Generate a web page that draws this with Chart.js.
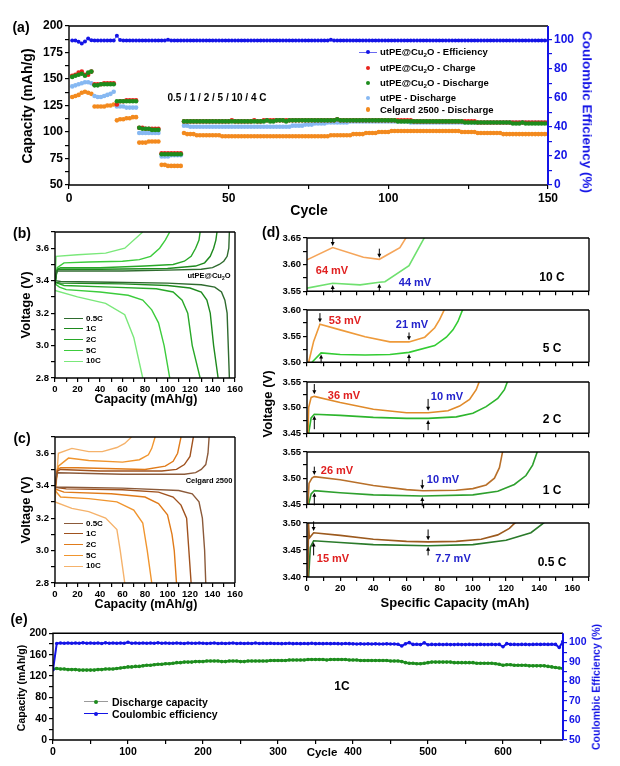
<!DOCTYPE html>
<html>
<head>
<meta charset="utf-8">
<script src="https://cdn.jsdelivr.net/npm/chart.js@4.4.0/dist/chart.umd.min.js"></script>
<style>
body { margin: 0; background: #fff; }
#page { position: relative; width: 620px; height: 766px; overflow: hidden; font-family: "Liberation Sans", Arial, sans-serif; }
canvas { position: absolute; }
.t { position: absolute; font-weight: bold; white-space: nowrap; line-height: 1; z-index: 3; color: #000; }
.dot { position: absolute; border-radius: 50%; z-index: 3; }
.ln { position: absolute; height: 0; z-index: 3; }
sub { font-size: 0.65em; vertical-align: -0.3em; line-height: 0; }
</style>
</head>
<body>
<div id="page"></div>
<script>
// ---------- (a) rate capability, cycles 1..150 ----------
const aCycles = Array.from({ length: 150 }, (_, i) => i + 1);
const aGreen = [
  152,153,154,155,153,156,157, 144,144,145,145,145,145,145, 129,129,129,129,129,129,129,
  104,103,103,103,102,102,102, 79,79,79,79,79,79,79,
  110,110,110,110,110,110,110,110,110,110, 110,110,110,110,110,110,110,110,110,110,
  110,110,110,110,110,110,111,110,110,111, 111,111,110,111,111,111,111,111,111,111,
  111,111,111,111,111,111,111,111,112,111, 111,111,111,111,111,111,111,111,111,111,
  111,111,111,111,111,111,111,110,110,110, 110,110,110,110,110,110,110,110,110,110,
  110,110,110,110,110,110,110,110,109,109, 109,109,109,109,109,109,109,109,109,109,
  109,109,109,108,108,108,109,108,108,108, 108,108,108,108,108
];
const aRed = [
  153,154,156,157,154,154,157, 145,145,145,146,146,146,146, 126,129,129,130,130,130,130,
  104,104,103,103,103,103,103, 80,80,80,80,80,80,80,
  110,110,110,110,110,110,110,110,110,110, 110,110,110,110,110,111,110,110,110,110,
  110,110,111,110,110,111,111,111,111,111, 111,111,111,111,111,111,111,111,111,111,
  111,111,111,111,111,111,111,111,112,111, 111,111,111,111,111,111,111,111,111,111,
  111,111,111,111,111,111,111,111,111,111, 111,111,110,110,110,110,110,110,110,110,
  110,110,110,110,110,110,110,110,110,110, 110,110,109,109,109,109,109,109,109,109,
  109,109,109,109,109,109,109,109,109,109, 109,109,109,109,109
];
const aLightBlue = [
  143,144,145,146,147,147,146, 134,133,133,134,135,136,138, 124,124,124,123,123,123,123,
  99,99,99,99,99,99,99, 77,77,77,78,78,78,78,
  106,106,105,105,105,105,105,105,105,105, 105,105,105,105,105,105,105,105,105,105,
  105,105,105,105,105,105,105,105,105,105, 105,105,105,105,106,106,106,106,107,107,
  107,108,108,108,108,109,109,109,109,109, 109,109,110,110,110,110,110,110,110,110,
  110,110,110,110,110,110,110,110,110,110, 110,109,109,109,109,109,109,109,109,109,
  109,109,109,109,109,109,109,109,109,109, 109,109,109,109,109,109,109,109,109,109,
  109,109,109,109,109,109,109,109,109,109, 109,109,109,109,109
];
const aOrange = [
  133,134,135,137,138,137,136, 124,124,124,124,125,125,126, 111,112,112,113,113,114,114,
  90,90,90,91,91,91,91, 69,69,68,68,68,68,68,
  99,98,98,98,97,97,97,97,97,97, 97,97,96,96,96,96,96,96,96,96,
  96,96,96,96,96,96,96,96,96,96, 96,96,96,96,96,96,96,96,96,96,
  96,96,96,96,96,96,97,97,97,97, 97,97,97,98,98,98,98,99,99,99,
  99,100,100,100,100,101,101,101,101,101, 101,101,101,101,101,101,101,101,101,101,
  101,101,101,101,101,101,101,100,100,100, 100,100,99,99,99,99,99,99,99,99,
  98,98,98,98,98,98,98,98,98,98, 98,98,98,98,98
];
const aEfficiency = [
  99.4,99.4,98.5,97.3,98.6,100.7,99.5, 99.4,99.4,99.4,99.4,99.4,99.4,99.4,
  102.6,99.6,99.4,99.4,99.4,99.4,99.4, 99.4,99.4,99.4,99.4,99.4,99.4,99.4,
  99.4,99.4,99.8,99.4,99.4,99.4,99.4,
  99.4,99.4,99.4,99.4,99.4,99.4,99.4,99.4,99.4,99.4, 99.4,99.4,99.4,99.4,99.4,99.4,99.4,99.4,99.4,99.4,
  99.4,99.4,99.4,99.4,99.4,99.4,99.4,99.4,99.4,99.4, 99.4,99.4,99.4,99.4,99.4,99.4,99.4,99.4,99.4,99.4,
  99.4,99.4,99.4,99.4,99.4,99.4,99.8,99.4,99.4,99.4, 99.4,99.4,99.4,99.4,99.4,99.4,99.4,99.4,99.4,99.4,
  99.4,99.4,99.4,99.4,99.4,99.4,99.4,99.4,99.4,99.4, 99.4,99.4,99.4,99.4,99.4,99.4,99.4,99.4,99.4,99.4,
  99.4,99.4,99.4,99.4,99.4,99.4,99.4,99.4,99.4,99.4, 99.4,99.4,99.4,99.4,99.4,99.4,99.4,99.4,99.4,99.4,
  99.4,99.4,99.4,99.4,99.4,99.4,99.4,99.4,99.4,99.4, 99.4,99.4,99.4,99.4,99.4
];

// ---------- (b) utPE@Cu2O voltage profiles [capacity, voltage] ----------
const bRates = ['0.5C', '1C', '2C', '5C', '10C'];
const bColors = ['#2f6b2f', '#1e8a1e', '#28a828', '#3ccc3c', '#7ae87a'];
const bCharge = [
  [[0,3.38],[1,3.44],[2,3.46],[20,3.46],[60,3.46],[100,3.465],[130,3.47],[140,3.48],[146,3.5],[150,3.52],[153,3.55],[154.5,3.6],[155,3.7]],
  [[0,3.38],[1.5,3.46],[3,3.47],[40,3.47],[100,3.475],[125,3.49],[133,3.51],[138,3.55],[141,3.6],[143,3.65],[144,3.7]],
  [[0,3.38],[2,3.47],[5,3.48],[40,3.48],[80,3.49],[105,3.5],[115,3.52],[121,3.55],[125,3.6],[128,3.65],[129,3.7]],
  [[0,3.38],[2,3.48],[8,3.51],[30,3.515],[60,3.52],[75,3.53],[85,3.55],[93,3.6],[98,3.65],[102,3.7]],
  [[0,3.38],[1,3.55],[20,3.56],[45,3.57],[62,3.6],[78,3.7]]
];
const bDischarge = [
  [[0,3.4],[5,3.395],[50,3.39],[100,3.385],[130,3.375],[142,3.36],[148,3.33],[151,3.28],[153,3.2],[154,3.0],[155,2.8]],
  [[0,3.39],[5,3.385],[60,3.38],[100,3.37],[120,3.355],[130,3.33],[135,3.28],[138,3.2],[141,3.0],[145,2.8]],
  [[0,3.39],[8,3.37],[50,3.36],[90,3.35],[105,3.33],[113,3.28],[118,3.2],[122,3.0],[129,2.8]],
  [[0,3.38],[4,3.36],[10,3.345],[40,3.33],[65,3.31],[78,3.28],[86,3.22],[92,3.14],[97,3.0],[102,2.8]],
  [[0,3.34],[20,3.3],[45,3.26],[62,3.19],[70,3.05],[78,2.8]]
];

// ---------- (c) Celgard 2500 voltage profiles ----------
const cColors = ['#8b5a3a', '#a0521e', '#e07b1a', '#f0952e', '#f5b26b'];
const cCharge = [
  [[0,3.38],[1.5,3.47],[3,3.48],[60,3.47],[115,3.47],[125,3.48],[130,3.5],[134,3.53],[136,3.6],[137,3.7]],
  [[0,3.38],[2,3.49],[5,3.5],[40,3.49],[95,3.49],[108,3.5],[115,3.53],[120,3.58],[123,3.7]],
  [[0,3.38],[2,3.5],[5,3.51],[20,3.51],[80,3.5],[98,3.52],[105,3.55],[109,3.6],[112,3.7]],
  [[0,3.38],[3,3.52],[12,3.57],[30,3.555],[60,3.545],[75,3.56],[83,3.59],[86,3.63],[89,3.7]],
  [[0,3.3],[3,3.6],[15,3.63],[30,3.61],[42,3.61],[55,3.635],[62,3.66],[68,3.7]]
];
const cDischarge = [
  [[0,3.39],[10,3.39],[60,3.385],[110,3.37],[122,3.35],[128,3.3],[131,3.2],[133,3.0],[134,2.8]],
  [[0,3.39],[10,3.38],[60,3.375],[92,3.36],[105,3.33],[112,3.28],[117,3.2],[119,3.0],[121,2.8]],
  [[0,3.38],[8,3.36],[50,3.35],[80,3.33],[92,3.29],[100,3.22],[104,3.1],[106,3.0],[108,2.8]],
  [[0,3.37],[5,3.33],[30,3.32],[55,3.3],[70,3.25],[78,3.17],[82,3.0],[86,2.8]],
  [[0,3.3],[15,3.26],[30,3.24],[45,3.2],[55,3.13],[58,3.0],[62,2.8]]
];

// ---------- (d) polarization close-ups ----------
const dRanges = [[3.55,3.65],[3.50,3.60],[3.45,3.55],[3.45,3.55],[3.40,3.50]];
const dOrange = [
  [[0,3.609],[15.5,3.632],[34,3.614],[43.6,3.61],[56,3.632],[60,3.652]],
  [[1,3.50],[4,3.54],[7.8,3.573],[20,3.562],[35,3.549],[50,3.539],[61.5,3.539],[71,3.548],[77,3.566],[80,3.582],[83,3.602]],
  [[0.6,3.45],[1,3.5],[2.5,3.52],[4.4,3.522],[20,3.51],[40,3.497],[60,3.49],[73,3.49],[85,3.494],[92,3.503],[98,3.516],[102,3.535],[104,3.552]],
  [[0.6,3.45],[1.2,3.49],[3,3.5],[4.4,3.503],[20,3.497],[40,3.486],[60,3.478],[70,3.476],[90,3.477],[100,3.48],[108,3.487],[113,3.5],[116,3.52],[118,3.552]],
  [[0.6,3.40],[0.9,3.50],[1.4,3.472],[4,3.482],[20,3.477],[40,3.47],[60,3.466],[73,3.465],[90,3.466],[105,3.47],[115,3.478],[122,3.49],[126,3.502]]
];
const dGreen = [
  [[0,3.556],[15.5,3.565],[32,3.562],[43.6,3.567],[47,3.568],[61.5,3.598],[71,3.652]],
  [[3,3.50],[8.5,3.518],[20,3.515],[35,3.514],[50,3.515],[61.5,3.519],[77,3.532],[84,3.548],[88,3.562],[91,3.578],[94,3.602]],
  [[1,3.45],[2.5,3.48],[4.4,3.487],[20,3.485],[40,3.481],[60,3.479],[73,3.479],[90,3.482],[100,3.489],[108,3.502],[115,3.518],[119,3.535],[121,3.552]],
  [[1,3.45],[2.5,3.47],[4.4,3.476],[20,3.472],[40,3.468],[69.5,3.466],[100,3.468],[115,3.475],[125,3.488],[132,3.505],[136,3.525],[139,3.552]],
  [[1,3.40],[2,3.455],[4,3.467],[20,3.464],[40,3.46],[73,3.458],[100,3.46],[120,3.468],[135,3.482],[143.5,3.502]]
];
const dOrangeColors = ['#f5a55a', '#ee9a3a', '#e08a2a', '#b8702a', '#9c5a1e'];
const dGreenColors = ['#6fe06f', '#33cc33', '#2db52d', '#2ea02e', '#2a7a2a'];
// arrows: [capacity, from V, to V]
const dArrows = [
  [[15.5,3.650,3.635],[43.6,3.630,3.613],[15.5,3.548,3.562],[43.6,3.549,3.564]],
  [[7.8,3.594,3.576],[61.5,3.557,3.542],[8.5,3.498,3.515],[61.5,3.498,3.516]],
  [[4.4,3.546,3.526],[73,3.517,3.494],[4.4,3.458,3.484],[73,3.456,3.476]],
  [[4.4,3.522,3.506],[69.5,3.497,3.479],[4.4,3.448,3.472],[69.5,3.446,3.464]],
  [[4,3.503,3.485],[73,3.488,3.468],[4,3.44,3.464],[73,3.44,3.456]]
];

// ---------- (e) long cycling at 1C, every 5th cycle ----------
const eCycles = Array.from({ length: 137 }, (_, i) => i * 5);
const eCapacity = [
  133,134,133,133,132,132,132,131,131,131,131,131,132,132,133,133,133,134,135,136,
  137,137,138,138,139,140,140,141,142,142,143,143,144,145,145,146,146,146,147,147,
  147,148,148,148,148,147,147,148,148,148,147,147,148,148,148,148,148,148,149,149,
  149,149,149,150,150,150,150,150,151,151,151,151,151,150,151,151,151,151,151,150,
  150,150,149,149,149,149,149,149,149,149,148,148,148,147,145,144,144,143,143,144,
  145,146,146,146,146,146,146,145,145,145,145,145,145,144,144,144,144,144,143,142,
  140,141,141,140,140,140,140,139,139,139,139,139,138,137,136,135,134
];
const eEfficiency = [
  86,99.5,99.7,99.6,99.7,99.6,99.7,99.6,99.8,99.6,99.7,99.6,99.7,99.5,99.8,99.6,99.7,99.6,99.7,99.6,
  100.1,99.6,99.7,99.6,99.7,99.6,99.7,99.6,99.8,99.6,99.7,99.6,99.6,99.7,99.6,99.5,99.7,99.6,99.6,99.7,
  99.6,99.5,99.6,99.7,99.5,99.6,99.5,99.6,99.7,99.5,99.6,99.5,99.6,99.5,99.7,99.5,99.6,99.5,99.6,99.5,
  99.5,99.4,99.5,99.6,99.4,99.5,99.4,99.5,99.4,99.6,99.4,99.5,99.4,99.5,99.4,99.5,99.4,99.3,99.5,99.4,
  99.3,99.2,99.3,99.2,99.3,99.2,99.3,99.2,99.2,99.3,99.2,99.2,99.1,98.2,99.3,99.9,99.0,99.1,98.9,99.8,
  98.8,99.0,98.9,99.0,98.9,99.0,98.9,98.9,99.0,98.9,98.9,99.0,98.9,98.9,99.0,98.9,98.9,99.0,98.9,99.0,
  97.8,99.4,99.0,99.0,98.9,99.0,99.0,98.9,99.0,99.1,99.0,99.1,99.0,99.1,99.0,97.4,100.6
];

// ---------- drawing ----------
const page = document.getElementById('page');
const FONT = '"Liberation Sans", Arial, sans-serif';
Chart.defaults.font.family = FONT;
Chart.defaults.font.weight = 'bold';
Chart.defaults.color = '#000';
Chart.defaults.animation = false;

// box around the plot area, right side may get its own colour
const framePlugin = {
  id: 'frame',
  afterDatasetsDraw(chart, args, opts) {
    const a = chart.chartArea, ctx = chart.ctx;
    ctx.save();
    ctx.lineWidth = 1.4;
    ctx.strokeStyle = '#000';
    ctx.beginPath();
    ctx.moveTo(a.right, a.top); ctx.lineTo(a.left, a.top);
    ctx.lineTo(a.left, a.bottom); ctx.lineTo(a.right, a.bottom);
    ctx.stroke();
    ctx.strokeStyle = opts.rightColor || '#000';
    ctx.lineWidth = opts.rightColor ? 2 : 1.4;
    ctx.beginPath(); ctx.moveTo(a.right, a.top); ctx.lineTo(a.right, a.bottom); ctx.stroke();
    ctx.restore();
  }
};

// little black arrows of panel (d)
const arrowPlugin = {
  id: 'arrows',
  afterDatasetsDraw(chart, args, opts) {
    if (!opts.list) return;
    const xs = chart.scales.x, ys = chart.scales.y, ctx = chart.ctx;
    ctx.save();
    ctx.strokeStyle = '#000'; ctx.fillStyle = '#000'; ctx.lineWidth = 1;
    opts.list.forEach(([x, v0, v1]) => {
      const px = xs.getPixelForValue(x), p0 = ys.getPixelForValue(v0), p1 = ys.getPixelForValue(v1);
      const d = p1 > p0 ? 1 : -1;
      ctx.beginPath(); ctx.moveTo(px, p0); ctx.lineTo(px, p1 - 3 * d); ctx.stroke();
      ctx.beginPath(); ctx.moveTo(px, p1); ctx.lineTo(px - 2, p1 - 4 * d); ctx.lineTo(px + 2, p1 - 4 * d);
      ctx.closePath(); ctx.fill();
    });
    ctx.restore();
  }
};
Chart.register(framePlugin, arrowPlugin);

function xy(pts) { return pts.map(p => ({ x: p[0], y: p[1] })); }
function zip(xs, ys) { return xs.map((x, i) => ({ x: x, y: ys[i] })); }

function axis(pos, min, max, step, size, fontSize, fmt, color, limit) {
  color = color || '#000';
  const s = {
    type: 'linear', position: pos, min: min, max: max,
    afterFit: sc => { if (sc.isHorizontal()) sc.height = size; else sc.width = size; },
    border: { display: false },
    grid: { drawOnChartArea: false, color: color, tickColor: color, tickLength: 4, lineWidth: 1.2 },
    ticks: { stepSize: step, autoSkip: false, maxRotation: 0, padding: 2, color: color,
      font: { size: fontSize, weight: 'bold' }, callback: fmt }
  };
  if (limit !== undefined) {
    s.ticks.includeBounds = false;
    s.afterBuildTicks = sc => { sc.ticks = sc.ticks.filter(t => t.value <= limit + 1e-6); };
  }
  return s;
}

function makeChart(box, m, datasets, scales, plugins) {
  const cv = document.createElement('canvas');
  const w = box.r - box.l + m.left + m.right, h = box.b - box.t + m.top + m.bottom;
  cv.width = w; cv.height = h;
  cv.style.left = (box.l - m.left) + 'px'; cv.style.top = (box.t - m.top) + 'px';
  cv.style.width = w + 'px'; cv.style.height = h + 'px';
  page.appendChild(cv);
  return new Chart(cv, {
    type: 'scatter',
    data: { datasets: datasets },
    options: {
      responsive: false, devicePixelRatio: 1,
      layout: { padding: { top: m.top, left: 0, bottom: 0, right: m.rightAxis ? 0 : m.right } },
      scales: scales,
      plugins: Object.assign({ legend: { display: false }, tooltip: { enabled: false } }, plugins || {})
    }
  });
}

function txt(html, x, y, size, opts) {
  opts = opts || {};
  const d = document.createElement('div');
  d.className = 't';
  d.innerHTML = html;
  d.style.fontSize = size + 'px';
  if (opts.color) d.style.color = opts.color;
  d.style.left = x + 'px'; d.style.top = y + 'px';
  if (opts.left) {
    d.style.transform = 'translate(0,-50%)';
  } else {
    d.style.transform = 'translate(-50%,-50%)' + (opts.rot ? ' rotate(' + opts.rot + 'deg)' : '');
  }
  page.appendChild(d);
}
function dot(x, y, r, color) {
  const d = document.createElement('div');
  d.className = 'dot';
  d.style.left = (x - r) + 'px'; d.style.top = (y - r) + 'px';
  d.style.width = 2 * r + 'px'; d.style.height = 2 * r + 'px';
  d.style.background = color;
  page.appendChild(d);
}
function hline(x0, x1, y, color, w) {
  const d = document.createElement('div');
  d.className = 'ln';
  d.style.left = x0 + 'px'; d.style.top = (y - w / 2) + 'px';
  d.style.width = (x1 - x0) + 'px';
  d.style.borderTop = w + 'px solid ' + color;
  page.appendChild(d);
}

const mod = (v, n) => Math.abs(Math.round(v * 1000) % Math.round(n * 1000)) < 1;

// ----- panel (a)
const BLUE = '#1414e6';
makeChart({ l: 69, t: 26, r: 548, b: 185 }, { left: 69, right: 72, top: 26, bottom: 30, rightAxis: true }, [
  { data: zip(aCycles, aEfficiency), yAxisID: 'y2', showLine: true, borderColor: '#4a4af0', borderWidth: 1,
    pointRadius: 2, pointBackgroundColor: BLUE, pointBorderWidth: 0 },
  { data: zip(aCycles, aGreen), pointRadius: 2.3, pointBackgroundColor: '#1d8c1d', pointBorderWidth: 0 },
  { data: zip(aCycles, aRed), pointRadius: 2.3, pointBackgroundColor: '#e8231c', pointBorderWidth: 0 },
  { data: zip(aCycles, aLightBlue), pointRadius: 2.3, pointBackgroundColor: '#86b8f2', pointBorderWidth: 0 },
  { data: zip(aCycles, aOrange), pointRadius: 2.3, pointBackgroundColor: '#f38a1e', pointBorderWidth: 0 }
], {
  x: axis('bottom', 0, 150, 25, 30, 12, v => mod(v, 50) ? v : ''),
  y: axis('left', 50, 200, 12.5, 69, 12, v => mod(v, 25) ? v : ''),
  y2: axis('right', 0, 109.3, 10, 72, 12, v => mod(v, 20) ? v : '', BLUE, 100)
}, { frame: { rightColor: BLUE } });

txt('(a)', 21, 27, 14);
txt('Capacity (mAh/g)', 27, 106, 14, { rot: -90 });
txt('Cycle', 309, 210, 14);
txt('Coulombic Efficiency (%)', 587, 112, 13.5, { rot: 90, color: BLUE });
txt('0.5 / 1 / 2 / 5 / 10 / 4 C', 217, 98, 10);
const aLegend = [
  ['utPE@Cu<sub>2</sub>O - Efficiency', BLUE, 52],
  ['utPE@Cu<sub>2</sub>O - Charge', '#e8231c', 68],
  ['utPE@Cu<sub>2</sub>O - Discharge', '#1d8c1d', 83],
  ['utPE - Discharge', '#86b8f2', 98],
  ['Celgard 2500 - Discharge', '#f38a1e', 109.5]
];
aLegend.forEach((r, i) => {
  if (i === 0) hline(359, 377, r[2], '#6a6af0', 1);
  dot(368, r[2], 2.3, r[1]);
  txt(r[0], 380, r[2], 9.5, { left: true });
});

// ----- panels (b) and (c)
function profilePanel(top, charge, discharge, colors, label, tag) {
  const ds = [];
  colors.forEach((c, i) => {
    ds.push({ data: xy(charge[i]), showLine: true, borderColor: c, borderWidth: 1.4, pointRadius: 0 });
    ds.push({ data: xy(discharge[i]), showLine: true, borderColor: c, borderWidth: 1.4, pointRadius: 0 });
  });
  makeChart({ l: 55, t: top, r: 235, b: top + 146 }, { left: 55, right: 15, top: 12, bottom: 20 }, ds, {
    x: axis('bottom', 0, 160, 10, 20, 9.5, v => mod(v, 20) ? v : ''),
    y: axis('left', 2.8, 3.7, 0.1, 55, 9.5, v => (mod(v, 0.2) && v < 3.65) ? v.toFixed(1) : '')
  });
  txt(tag, 22, top + 1, 14);
  txt('Voltage (V)', 25, top + 73, 13, { rot: -90 });
  txt('Capacity (mAh/g)', 146, top + 167, 12.5);
  txt(label, 209, top + 44, 7.5);
  bRates.forEach((r, i) => {
    const y = top + 86.5 + i * 10.7;
    hline(64, 83, y, colors[i], 1.6);
    txt(r, 86, y, 8, { left: true });
  });
}
profilePanel(232, bCharge, bDischarge, bColors, 'utPE@Cu<sub>2</sub>O', '(b)');
profilePanel(437, cCharge, cDischarge, cColors, 'Celgard 2500', '(c)');

// ----- panel (d)
const dBoxes = [[238, 293], [310, 364], [382, 435], [452, 506], [523, 577]];
dBoxes.forEach((bx, i) => {
  const last = i === dBoxes.length - 1;
  makeChart({ l: 307, t: bx[0], r: 589, b: bx[1] }, { left: 57, right: 11, top: 8, bottom: last ? 18 : 6 }, [
    { data: xy(dOrange[i]), showLine: true, borderColor: dOrangeColors[i], borderWidth: 1.6, pointRadius: 0 },
    { data: xy(dGreen[i]), showLine: true, borderColor: dGreenColors[i], borderWidth: 1.6, pointRadius: 0 }
  ], {
    x: axis('bottom', 0, 170, 10, last ? 18 : 6, 9.5, v => (last && mod(v, 20)) ? v : ''),
    y: axis('left', dRanges[i][0], dRanges[i][1], 0.025, 57, 9.5, v => mod(v, 0.05) ? v.toFixed(2) : '')
  }, { arrows: { list: dArrows[i] } });
});
txt('(d)', 271, 232, 14);
txt('Voltage (V)', 267, 404, 13, { rot: -90 });
txt('Specific Capacity (mAh)', 455, 602, 13);
[['10 C', 277], ['5 C', 348], ['2 C', 419], ['1 C', 490], ['0.5 C', 562]].forEach(l => txt(l[0], 552, l[1], 12));
const RED = '#e02020', DBLUE = '#2222cc';
txt('64 mV', 332, 270, 11, { color: RED });
txt('53 mV', 345, 320, 11, { color: RED });
txt('36 mV', 344, 395, 11, { color: RED });
txt('26 mV', 337, 470, 11, { color: RED });
txt('15 mV', 333, 558, 11, { color: RED });
txt('44 mV', 415, 282, 11, { color: DBLUE });
txt('21 mV', 412, 324, 11, { color: DBLUE });
txt('10 mV', 447, 396, 11, { color: DBLUE });
txt('10 mV', 443, 479, 11, { color: DBLUE });
txt('7.7 mV', 453, 558, 11, { color: DBLUE });

// ----- panel (e)
makeChart({ l: 53, t: 633, r: 563, b: 740 }, { left: 53, right: 57, top: 8, bottom: 18, rightAxis: true }, [
  { data: zip(eCycles, eEfficiency), yAxisID: 'y2', showLine: true, borderColor: BLUE, borderWidth: 2,
    pointRadius: 1.8, pointBackgroundColor: BLUE, pointBorderWidth: 0 },
  { data: zip(eCycles, eCapacity), showLine: true, borderColor: '#2a9a2a', borderWidth: 2.5,
    pointRadius: 1.8, pointBackgroundColor: '#1d8c1d', pointBorderWidth: 0 }
], {
  x: axis('bottom', 0, 680, 50, 18, 10.5, v => mod(v, 100) ? v : '', '#000', 650),
  y: axis('left', 0, 200, 20, 53, 10.5, v => mod(v, 40) ? v : ''),
  y2: axis('right', 50, 104.7, 5, 57, 10.5, v => mod(v, 10) ? v : '', BLUE, 100)
}, { frame: { rightColor: BLUE } });
txt('(e)', 19, 619, 14);
txt('Capacity (mAh/g)', 21, 688, 10.5, { rot: -90 });
txt('Coulombic Efficiency (%)', 596, 687, 10.5, { rot: -90, color: BLUE });
txt('Cycle', 322, 753, 11.5);
txt('1C', 342, 686, 12);
hline(84, 108, 702, '#9a9a9a', 1.2);
dot(96, 702, 2.2, '#1d8c1d');
txt('Discharge capacity', 112, 702, 10.5, { left: true });
hline(84, 108, 714, BLUE, 1.2);
dot(96, 714, 2.2, BLUE);
txt('Coulombic efficiency', 112, 714, 10.5, { left: true });
</script>
</body>
</html>
